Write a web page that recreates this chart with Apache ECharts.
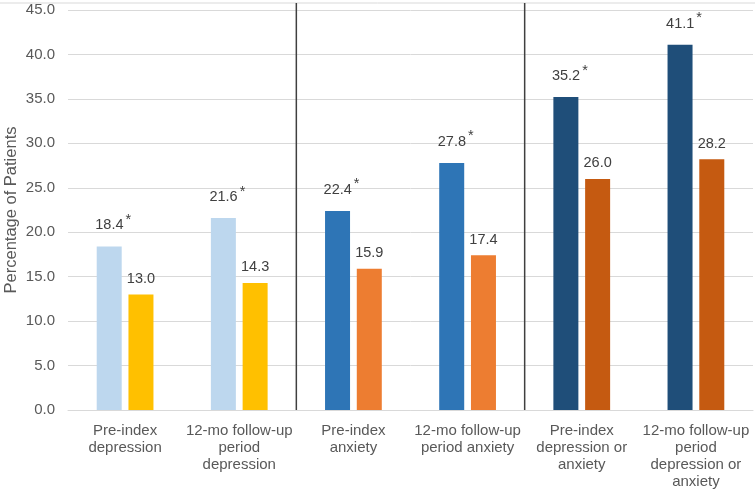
<!DOCTYPE html>
<html><head><meta charset="utf-8">
<script src="https://cdn.jsdelivr.net/npm/echarts@6/dist/echarts.min.js"></script>
<style>html,body{margin:0;padding:0;background:#fff}#c{width:755px;height:494px}</style>
</head><body><div id="c"></div>
<script>
const categories = ["Pre-index\ndepression", "12-mo follow-up\nperiod\ndepression", "Pre-index\nanxiety", "12-mo follow-up\nperiod anxiety", "Pre-index\ndepression or\nanxiety", "12-mo follow-up\nperiod\ndepression or\nanxiety"];
const seriesA = [18.4, 21.6, 22.4, 27.8, 35.2, 41.1];
const seriesB = [13.0, 14.3, 15.9, 17.4, 26.0, 28.2];
const significant = [true, true, true, true, true, true];
const yTicks = [0, 5, 10, 15, 20, 25, 30, 35, 40, 45];
const separators = [2, 4];

const colorsA = ['#BDD7EE', '#BDD7EE', '#2E75B6', '#2E75B6', '#1F4E79', '#1F4E79'];
const colorsB = ['#FFC000', '#FFC000', '#ED7D31', '#ED7D31', '#C55A11', '#C55A11'];
const FONT = 'Liberation Sans';

const sepSeries = separators.map(s => ({
  type: 'line', xAxisIndex: 1, yAxisIndex: 0,
  data: [[s, 0], [s, 45.8]], symbol: 'none', clip: false, silent: true,
  lineStyle: { color: '#404040', width: 1.5 }, z: 5
}));

const chart = echarts.init(document.getElementById('c'));
chart.setOption({
  animation: false,
  textStyle: { fontFamily: FONT },
  grid: { left: 68, right: 2, top: 10, bottom: 84, containLabel: false, outerBoundsMode: 'none' },
  xAxis: [{
    type: 'category', data: categories,
    axisLine: { show: true, lineStyle: { color: '#d9d9d9' } },
    axisTick: { show: false },
    axisLabel: { color: '#595959', fontSize: 15, lineHeight: 17, margin: 12, interval: 0 }
  }, {
    type: 'value', min: 0, max: categories.length, show: false
  }],
  yAxis: {
    type: 'value', min: yTicks[0], max: yTicks[yTicks.length - 1], interval: yTicks[1] - yTicks[0],
    name: 'Percentage of Patients', nameLocation: 'middle', nameGap: 48, nameMoveOverlap: false,
    nameTextStyle: { color: '#595959', fontSize: 16.5 },
    axisLine: { show: false }, axisTick: { show: false },
    axisLabel: { color: '#595959', fontSize: 15, margin: 13, formatter: v => v.toFixed(1) },
    splitLine: { lineStyle: { color: '#d9d9d9', width: 1 } }
  },
  graphic: [{ type: 'line', shape: { x1: 0, y1: 3, x2: 755, y2: 3 }, style: { stroke: '#d9d9d9', lineWidth: 1 } }],
  series: [{
    type: 'bar', data: seriesA, barWidth: 25, barGap: '27%',
    itemStyle: { color: p => colorsA[p.dataIndex] },
    label: {
      show: true, position: 'top', distance: 8, offset: [4, 0],
      formatter: p => '{v|' + p.value.toFixed(1) + '}' + (significant[p.dataIndex] ? '{s|*}' : ''),
      rich: {
        v: { color: '#404040', fontSize: 14.5, fontFamily: FONT },
        s: { color: '#404040', fontSize: 14.5, fontFamily: FONT, padding: [0, 0, 11, 2] }
      }
    }
  }, {
    type: 'bar', data: seriesB, barWidth: 25,
    itemStyle: { color: p => colorsB[p.dataIndex] },
    label: {
      show: true, position: 'top', distance: 8, color: '#404040', fontSize: 14.5,
      formatter: p => p.value.toFixed(1)
    }
  }].concat(sepSeries)
});
</script></body></html>
